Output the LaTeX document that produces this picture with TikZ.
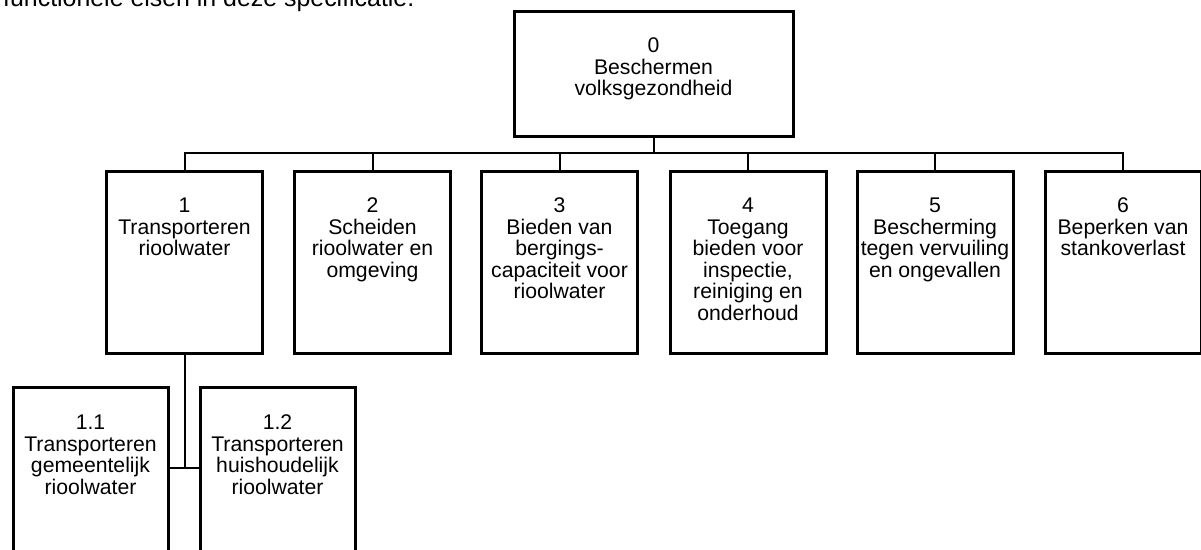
\documentclass[tikz,border=0pt]{standalone}
\usepackage{fontspec}
\setmainfont{Liberation Sans}
\begin{document}
\begin{tikzpicture}[x=1pt,y=-1pt,
  box/.style={draw, line width=3pt, inner sep=0pt, outer sep=0pt, rectangle},
  topbox/.style={box, minimum width=279pt, minimum height=125pt},
  l1box/.style={box, minimum width=156pt, minimum height=182pt},
  l2box/.style={box, minimum width=155pt, minimum height=200pt},
  lbl/.style={anchor=north, align=center, inner sep=0pt, font=\fontsize{21.2}{21.5}\selectfont},
  conn/.style={line width=2pt}]
\path[use as bounding box] (0,0) rectangle (1201,549);
\clip (0,0) rectangle (1201,549);
\node[anchor=base west, inner sep=0pt, font=\fontsize{24.9}{28}\selectfont] (hdr) at (3,6) {functionele eisen in deze specificatie.};
% boxes
\node[topbox] (b0) at (653.5,73.5) {};
\node[l1box] (b1) at (184.5,262) {};
\node[l1box] (b2) at (372.5,262) {};
\node[l1box] (b3) at (559.5,262) {};
\node[l1box] (b4) at (748,262) {};
\node[l1box] (b5) at (935,262) {};
\node[l1box] (b6) at (1123,262) {};
\node[l2box] (b11) at (90.5,487) {};
\node[l2box] (b12) at (277.5,487) {};
% labels
\node[lbl, yshift=-25.6pt] (t0) at (b0.north) {\rule{0pt}{16pt}0\\Beschermen\\volksgezondheid};
\node[lbl, yshift=-25.6pt] (t1) at (b1.north) {\rule{0pt}{16pt}1\\Transporteren\\rioolwater};
\node[lbl, yshift=-25.6pt] (t2) at (b2.north) {\rule{0pt}{16pt}2\\Scheiden\\rioolwater en\\omgeving};
\node[lbl, yshift=-25.6pt] (t3) at (b3.north) {\rule{0pt}{16pt}3\\Bieden van\\bergings-\\capaciteit voor\\rioolwater};
\node[lbl, yshift=-25.6pt] (t4) at (b4.north) {\rule{0pt}{16pt}4\\Toegang\\bieden voor\\inspectie,\\reiniging en\\onderhoud};
\node[lbl, yshift=-25.6pt] (t5) at (b5.north) {\rule{0pt}{16pt}5\\Bescherming\\tegen vervuiling\\en ongevallen};
\node[lbl, yshift=-25.6pt] (t6) at (b6.north) {\rule{0pt}{16pt}6\\Beperken van\\stankoverlast};
\node[lbl, yshift=-26.6pt] (t11) at (b11.north) {\rule{0pt}{16pt}1.1\\Transporteren\\gemeentelijk\\rioolwater};
\node[lbl, yshift=-26.6pt] (t12) at (b12.north) {\rule{0pt}{16pt}1.2\\Transporteren\\huishoudelijk\\rioolwater};
% connectors
\draw[conn] (b0.south) -- (b0.south |- 0,153) coordinate (bus);
\foreach \i in {1,...,6} \draw[conn] (bus) -| (b\i.north);
\draw[conn] (b1.south) -- (b1.south |- 0,468) coordinate (j);
\draw[conn] (b11.east |- j) -- (b12.west |- j);
\end{tikzpicture}
\end{document}
